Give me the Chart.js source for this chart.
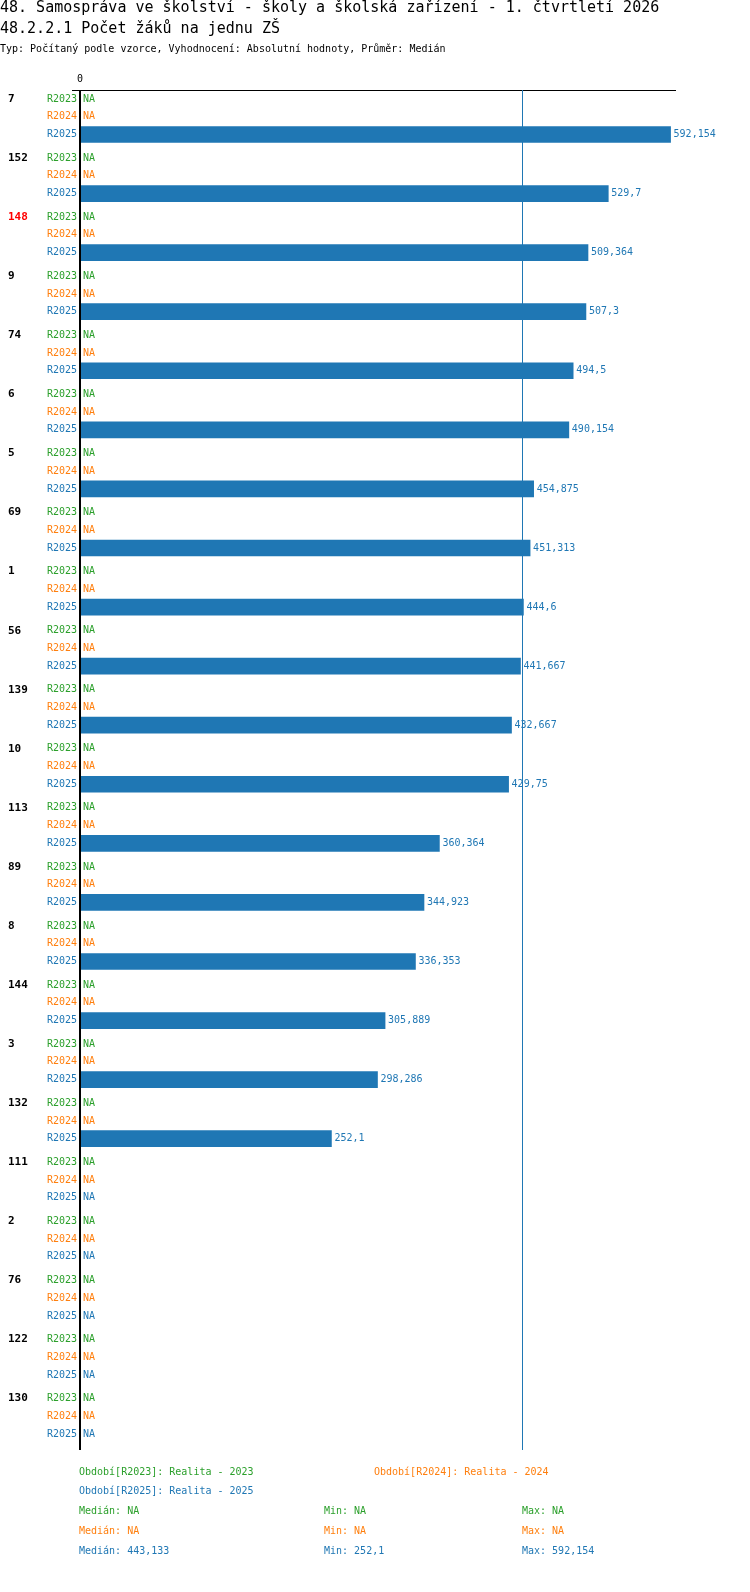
<!DOCTYPE html>
<html><head><meta charset="utf-8">
<script src="https://cdn.jsdelivr.net/npm/chart.js@4"></script>
<style>html,body{margin:0;padding:0;background:#fff;overflow:hidden}canvas{display:block}</style>
</head><body><canvas id="c" width="750" height="1592" style="width:750px;height:1592px"></canvas>
<script>
const groups = ["7","152","148","9","74","6","5","69","1","56","139","10","113","89","8","144","3","132","111","2","76","122","130"];
const highlight = "148";
const r2023 = groups.map(() => null);
const r2024 = groups.map(() => null);
const r2025 = [592.154,529.7,509.364,507.3,494.5,490.154,454.875,451.313,444.6,441.667,432.667,429.75,360.364,344.923,336.353,305.889,298.286,252.1,null,null,null,null,null];
const seriesNames = ["R2023","R2024","R2025"];
const seriesColors = ["#2ca02c","#ff7f0e","#1f77b4"];
const median2025 = 443.133;
const legendStats = [["NA","NA","NA"],["NA","NA","NA"],["443,133","252,1","592,154"]];
const PITCH = 59 / 17.7;
const MONO = "'DejaVu Sans Mono', monospace";
const fmt = v => String(v).replace(".", ",");

const allSeries = [r2023, r2024, r2025];

const overlay = {
  id: "overlay",
  afterDatasetsDraw(chart) {
    const { ctx, chartArea: a, scales: { x, y } } = chart;
    ctx.save();
    // titles
    ctx.fillStyle = "#000"; ctx.textBaseline = "middle"; ctx.textAlign = "left";
    ctx.font = "15px " + MONO;
    ctx.fillText("48. Samospráva ve školství - školy a školská zařízení - 1. čtvrtletí 2026", 0, 8);
    ctx.fillText("48.2.2.1 Počet žáků na jednu ZŠ", 0, 29);
    ctx.font = "10px " + MONO;
    ctx.fillText("Typ: Počítaný podle vzorce, Vyhodnocení: Absolutní hodnoty, Průměr: Medián", 0, 49);
    // axes
    ctx.textAlign = "center"; ctx.fillText("0", x.getPixelForValue(0), 79);
    ctx.strokeStyle = "#000"; ctx.lineWidth = 1;
    ctx.beginPath(); ctx.moveTo(72, a.top + 0.5); ctx.lineTo(a.right, a.top + 0.5); ctx.stroke();
    ctx.lineWidth = 2;
    ctx.beginPath(); ctx.moveTo(x.getPixelForValue(0), a.top); ctx.lineTo(x.getPixelForValue(0), a.bottom); ctx.stroke();
    ctx.strokeStyle = "#1f77b4"; ctx.lineWidth = 1;
    const mx = Math.round(x.getPixelForValue(median2025)) + 0.5;
    ctx.beginPath(); ctx.moveTo(mx, a.top); ctx.lineTo(mx, a.bottom); ctx.stroke();
    // rows
    groups.forEach((g, gi) => {
      const gy = y.getPixelForValue(gi * PITCH);
      ctx.textAlign = "left";
      ctx.font = "bold 11px " + MONO;
      ctx.fillStyle = g === highlight ? "#ff0000" : "#000";
      ctx.fillText(g, 8, gy);
      seriesNames.forEach((s, si) => {
        const py = y.getPixelForValue(gi * PITCH + si);
        ctx.font = "10px " + MONO;
        ctx.fillStyle = seriesColors[si];
        ctx.textAlign = "right";
        ctx.fillText(s, 77, py);
        ctx.textAlign = "left";
        const v = allSeries[si][gi];
        ctx.fillText(v == null ? "NA" : fmt(v), (v == null ? x.getPixelForValue(0) : x.getPixelForValue(v)) + 3, py);
      });
    });
    // legend
    ctx.font = "10px " + MONO; ctx.textAlign = "left";
    ctx.fillStyle = seriesColors[0]; ctx.fillText("Období[R2023]: Realita - 2023", 79, 1472);
    ctx.fillStyle = seriesColors[1]; ctx.fillText("Období[R2024]: Realita - 2024", 374, 1472);
    ctx.fillStyle = seriesColors[2]; ctx.fillText("Období[R2025]: Realita - 2025", 79, 1491);
    legendStats.forEach((st, i) => {
      const ly = 1511 + i * 20;
      ctx.fillStyle = seriesColors[i];
      ctx.fillText("Medián: " + st[0], 79, ly);
      ctx.fillText("Min: " + st[1], 324, ly);
      ctx.fillText("Max: " + st[2], 522, ly);
    });
    ctx.restore();
  }
};

// one dataset, one colour per bar, so bars are not shifted by grouping
const points = [], colors = [];
allSeries.forEach((arr, si) => arr.forEach((v, gi) => {
  if (v != null) { points.push({ x: v, y: gi * PITCH + si }); colors.push(seriesColors[si]); }
}));

new Chart(document.getElementById("c"), {
  type: "bar",
  data: { datasets: [{ data: points, backgroundColor: colors, barThickness: 16, grouped: false }] },
  options: {
    indexAxis: "y",
    responsive: false,
    devicePixelRatio: 1,
    animation: false,
    layout: { padding: { left: 80, top: 90, right: 74, bottom: 142 } },
    plugins: { legend: { display: false }, tooltip: { enabled: false } },
    scales: {
      x: { type: "linear", min: 0, max: 597.6, display: false },
      y: { type: "linear", min: -0.51, max: 22 * PITCH + 2.9, reverse: true, offset: false, display: false },
    },
  },
  plugins: [overlay],
});
</script></body></html>
